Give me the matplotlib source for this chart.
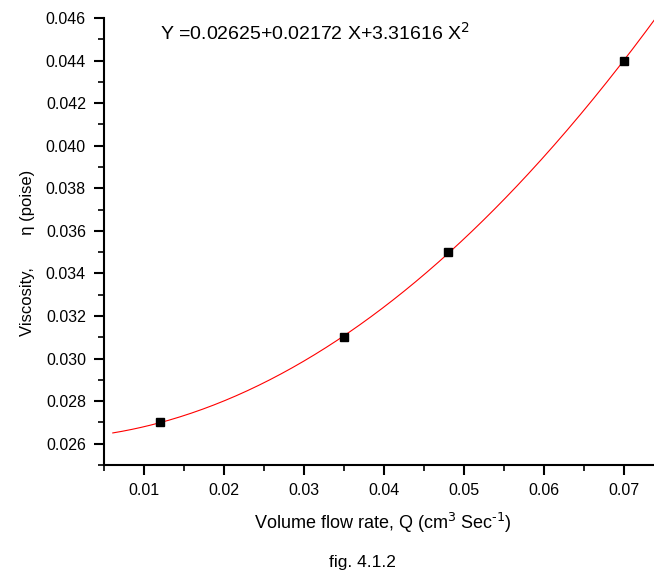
import numpy as np
import matplotlib
matplotlib.use("Agg")
import matplotlib.pyplot as plt
from matplotlib.ticker import MultipleLocator, FormatStrFormatter

plt.rcParams['font.family'] = ['Liberation Sans', 'DejaVu Sans']

# Data
flow_rate = [0.012, 0.035, 0.048, 0.070]
viscosity = [0.027, 0.031, 0.035, 0.044]
coef = [0.02625, 0.02172, 3.31616]  # a + b X + c X^2
fit_x_start = 0.0061
fit_x_end = 0.076

fig = plt.figure(figsize=(6.54, 5.73), dpi=100)
ax = fig.add_axes([0.159, 0.1885, 0.841, 0.780])

xf = np.linspace(fit_x_start, fit_x_end, 300)
yf = coef[0] + coef[1] * xf + coef[2] * xf ** 2
ax.plot(xf, yf, color='red', lw=0.8, zorder=2)
ax.plot(flow_rate, viscosity, 's', color='black', markersize=6.3, zorder=3)

ax.set_xlim(0.005, 0.07375)
ax.set_ylim(0.025, 0.046)

ax.xaxis.set_major_locator(MultipleLocator(0.01))
ax.xaxis.set_minor_locator(MultipleLocator(0.005))
ax.yaxis.set_major_locator(MultipleLocator(0.002))
ax.yaxis.set_minor_locator(MultipleLocator(0.001))
ax.xaxis.set_major_formatter(FormatStrFormatter('%.2f'))
ax.yaxis.set_major_formatter(FormatStrFormatter('%.3f'))

for s in ['top', 'right']:
    ax.spines[s].set_visible(False)
for s in ['left', 'bottom']:
    ax.spines[s].set_linewidth(1.5)

ax.tick_params(which='major', direction='out', length=7, width=1.5, labelsize=11.5, pad=6)
ax.tick_params(which='minor', direction='out', length=4, width=1.2)

ax.text(0.012, 0.0453, 'Y =0.02625+0.02172 X+3.31616 X$^2$', fontsize=14,
        va='center', ha='left')

ax.set_ylabel('Viscosity,       \u03b7 (poise)', fontsize=12)
ax.yaxis.set_label_coords(-0.125, 0.474)
fig.text(383 / 654, 1 - 523 / 573, r'Volume flow rate, Q (cm$^3$ Sec$^{\text{-1}}$)',
         fontsize=13, ha='center', va='center')
fig.text(362 / 654, 1 - 563 / 573, 'fig. 4.1.2', fontsize=12.5,
         ha='center', va='center')

fig.savefig('out.png', dpi=100)
